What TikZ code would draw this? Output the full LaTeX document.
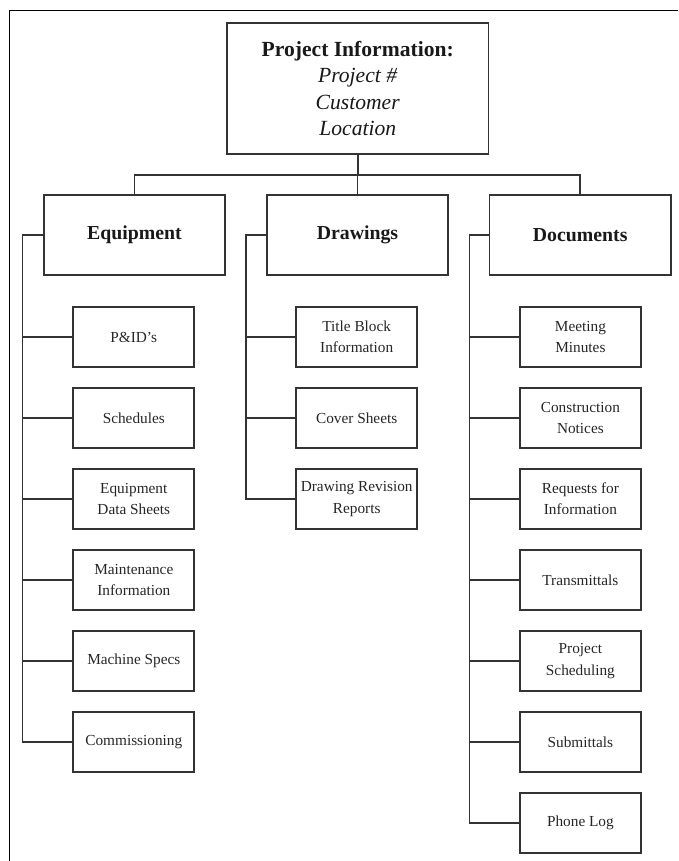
\documentclass[tikz,border=0pt]{standalone}
\usepackage{fontspec}
\setmainfont{Liberation Serif}
\begin{document}
\begin{tikzpicture}[x=1pt,y=-1pt,
  line join=miter,
  wire/.style={draw=black!80,line width=1.7pt},
  topbox/.style={draw=black!80,line width=1.8pt,align=center,inner sep=0pt,
    minimum width=261.5pt,minimum height=131pt,text=black!90,
    font=\fontsize{21.6}{26.3}\selectfont},
  catbox/.style={draw=black!80,line width=1.8pt,align=center,inner sep=0pt,
    minimum width=181.5pt,minimum height=80pt,text=black!90,
    font=\fontsize{19.8}{24}\selectfont\bfseries},
  leafbox/.style={draw=black!80,line width=1.7pt,align=center,inner sep=0pt,
    minimum width=121pt,minimum height=59.5pt,text=black!85,
    font=\fontsize{15.3}{21.3}\selectfont}]
\useasboundingbox (0,0) rectangle (678,861);
% page frame (top and left edges)
\draw[black,line width=1pt] (9.5,861) -- (9.5,10.7) -- (678,10.7);

% root
\node[topbox] (top) at (357.75,88.5)
  {\textbf{Project Information:}\\\textit{Project \#}\\\textit{Customer}\\\textit{Location}};

% categories
\node[catbox] (eq)  at (134.4,235) {Equipment};
\node[catbox] (dr)  at (357.5,235) {Drawings};
\node[catbox] (doc) at (580.2,235) {Documents};

% bus between root and categories
\coordinate (bus) at (357.5,175);
\draw[wire] (top.south) -- (top.south |- bus);
\draw[wire] (eq.north) -- (eq.north |- bus) -- (doc.north |- bus) -- (doc.north);
\draw[wire] (dr.north) -- (dr.north |- bus);

% spine positions
\coordinate (eqs)  at (22.6,0);
\coordinate (drs)  at (246.2,0);
\coordinate (docs) at (469.4,0);

% Equipment items
\node[leafbox] (e1) at (133.8,337) {P\&ID’s};
\node[leafbox] (e2) at (133.8,418) {Schedules};
\node[leafbox] (e3) at (133.8,499) {Equipment\\Data Sheets};
\node[leafbox] (e4) at (133.8,580) {Maintenance\\Information};
\node[leafbox] (e5) at (133.8,661) {Machine Specs};
\node[leafbox] (e6) at (133.8,742) {Commissioning};

% Drawings items
\node[leafbox] (d1) at (356.7,337) {Title Block\\Information};
\node[leafbox] (d2) at (356.7,418) {Cover Sheets};
\node[leafbox] (d3) at (356.7,499) {Drawing Revision\\Reports};

% Documents items
\node[leafbox] (c1) at (580.4,337) {Meeting\\Minutes};
\node[leafbox] (c2) at (580.4,418) {Construction\\Notices};
\node[leafbox] (c3) at (580.4,499) {Requests for\\Information};
\node[leafbox] (c4) at (580.4,580) {Transmittals};
\node[leafbox] (c5) at (580.4,661) {Project\\Scheduling};
\node[leafbox] (c6) at (580.4,742) {Submittals};
\node[leafbox] (c7) at (580.4,823) {Phone Log};

% spines
\draw[wire] (eq.west) -- (eq.west -| eqs) -- (eqs |- e6.west) -- (e6.west);
\foreach \n in {e1,e2,e3,e4,e5}
  \draw[wire] (\n.west) -- (\n.west -| eqs);
\draw[wire] (dr.west) -- (dr.west -| drs) -- (drs |- d3.west) -- (d3.west);
\foreach \n in {d1,d2}
  \draw[wire] (\n.west) -- (\n.west -| drs);
\draw[wire] (doc.west) -- (doc.west -| docs) -- (docs |- c7.west) -- (c7.west);
\foreach \n in {c1,c2,c3,c4,c5,c6}
  \draw[wire] (\n.west) -- (\n.west -| docs);
\end{tikzpicture}
\end{document}
